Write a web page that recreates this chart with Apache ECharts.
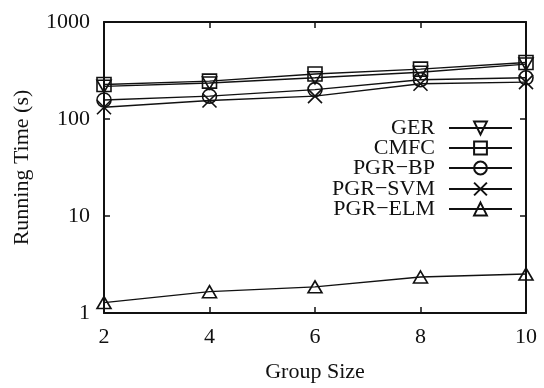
<!DOCTYPE html>
<html>
<head>
<meta charset="utf-8">
<script src="https://cdn.jsdelivr.net/npm/echarts@6/dist/echarts.min.js"></script>
<style>
html,body{margin:0;padding:0;background:#fff;}
#c{width:544px;height:388px;}
</style>
</head>
<body>
<div id="c"></div>
<script>
const groupSizes = [2, 4, 6, 8, 10];
const xTicks = [2, 4, 6, 8, 10];
const yTicks = [1, 10, 100, 1000];
const seriesNames = ['GER', 'CMFC', 'PGR\u2212BP', 'PGR\u2212SVM', 'PGR\u2212ELM'];
const ger = [217, 235, 266, 303, 368];
const cmfc = [227, 246, 291, 327, 383];
const pgrBp = [157, 172, 201, 254, 266];
const pgrSvm = [132, 155, 172, 231, 240];
const pgrElm = [1.28, 1.66, 1.86, 2.35, 2.52];

const values = [ger, cmfc, pgrBp, pgrSvm, pgrElm];
const symbols = [
  'path://M0,0L10,0L5,8.66Z',
  'path://M0,0H10V10H0Z',
  'circle',
  'path://M0,0L10,10M10,0L0,10',
  'path://M5,0L10,8.66L0,8.66Z'
];
const sizes = [[14, 12], 14, 14, 14, [14, 12]];
const FONT = 'Liberation Serif';
const legendRows = [128, 148, 168, 189, 209];

const chart = echarts.init(document.getElementById('c'), null, {renderer: 'canvas'});

const series = seriesNames.map((name, i) => ({
  name: name,
  type: 'line',
  xAxisIndex: 0,
  yAxisIndex: 0,
  data: groupSizes.map((g, j) => [g, values[i][j]]),
  symbol: symbols[i],
  symbolSize: sizes[i],
  showAllSymbol: true,
  animation: false,
  lineStyle: {color: '#111', width: 1.4},
  itemStyle: {color: 'transparent', borderColor: '#111', borderWidth: 1.6},
  emphasis: {disabled: true}
}));

const legends = seriesNames.map((name, i) => ({
  data: [name],
  orient: 'vertical',
  align: 'right',
  right: 31,
  top: legendRows[i] - 11,
  padding: 0,
  itemWidth: 63,
  itemHeight: 16,
  selectedMode: false,
  textStyle: {fontFamily: FONT, fontSize: 22, color: '#111', padding: [0, 9, 0, 0], lineHeight: 22}
}));

const tickStyle = {show: true, inside: true, length: 6, lineStyle: {color: '#111', width: 1.5}};
const lineStyle = {show: true, lineStyle: {color: '#111', width: 2}};

chart.setOption({
  backgroundColor: '#fff',
  animation: false,
  grid: {left: 104, right: 18, top: 22, bottom: 69, containLabel: false},
  legend: legends,
  xAxis: [{
    type: 'value',
    position: 'bottom',
    min: xTicks[0],
    max: xTicks[xTicks.length - 1],
    interval: 2,
    name: 'Group Size',
    nameLocation: 'middle',
    nameGap: 48,
    nameTextStyle: {fontFamily: FONT, fontSize: 22, color: '#111'},
    axisLine: lineStyle,
    axisTick: tickStyle,
    splitLine: {show: false},
    axisLabel: {fontFamily: FONT, fontSize: 22, color: '#111', margin: 13}
  }, {
    type: 'value',
    position: 'top',
    min: xTicks[0],
    max: xTicks[xTicks.length - 1],
    interval: 2,
    axisLine: lineStyle,
    axisTick: tickStyle,
    splitLine: {show: false},
    axisLabel: {show: false}
  }],
  yAxis: [{
    type: 'log',
    logBase: 10,
    position: 'left',
    min: yTicks[0],
    max: yTicks[yTicks.length - 1],
    interval: 1,
    name: 'Running Time (s)',
    nameLocation: 'middle',
    nameGap: 71,
    nameTextStyle: {fontFamily: FONT, fontSize: 22, color: '#111'},
    axisLine: lineStyle,
    axisTick: tickStyle,
    minorTick: {show: false},
    splitLine: {show: false},
    axisLabel: {fontFamily: FONT, fontSize: 22, color: '#111', margin: 14,
      formatter: v => String(Math.round(v))}
  }, {
    type: 'log',
    logBase: 10,
    position: 'right',
    min: yTicks[0],
    max: yTicks[yTicks.length - 1],
    interval: 1,
    axisLine: lineStyle,
    axisTick: tickStyle,
    splitLine: {show: false},
    axisLabel: {show: false}
  }],
  series: series
});
</script>
</body>
</html>
